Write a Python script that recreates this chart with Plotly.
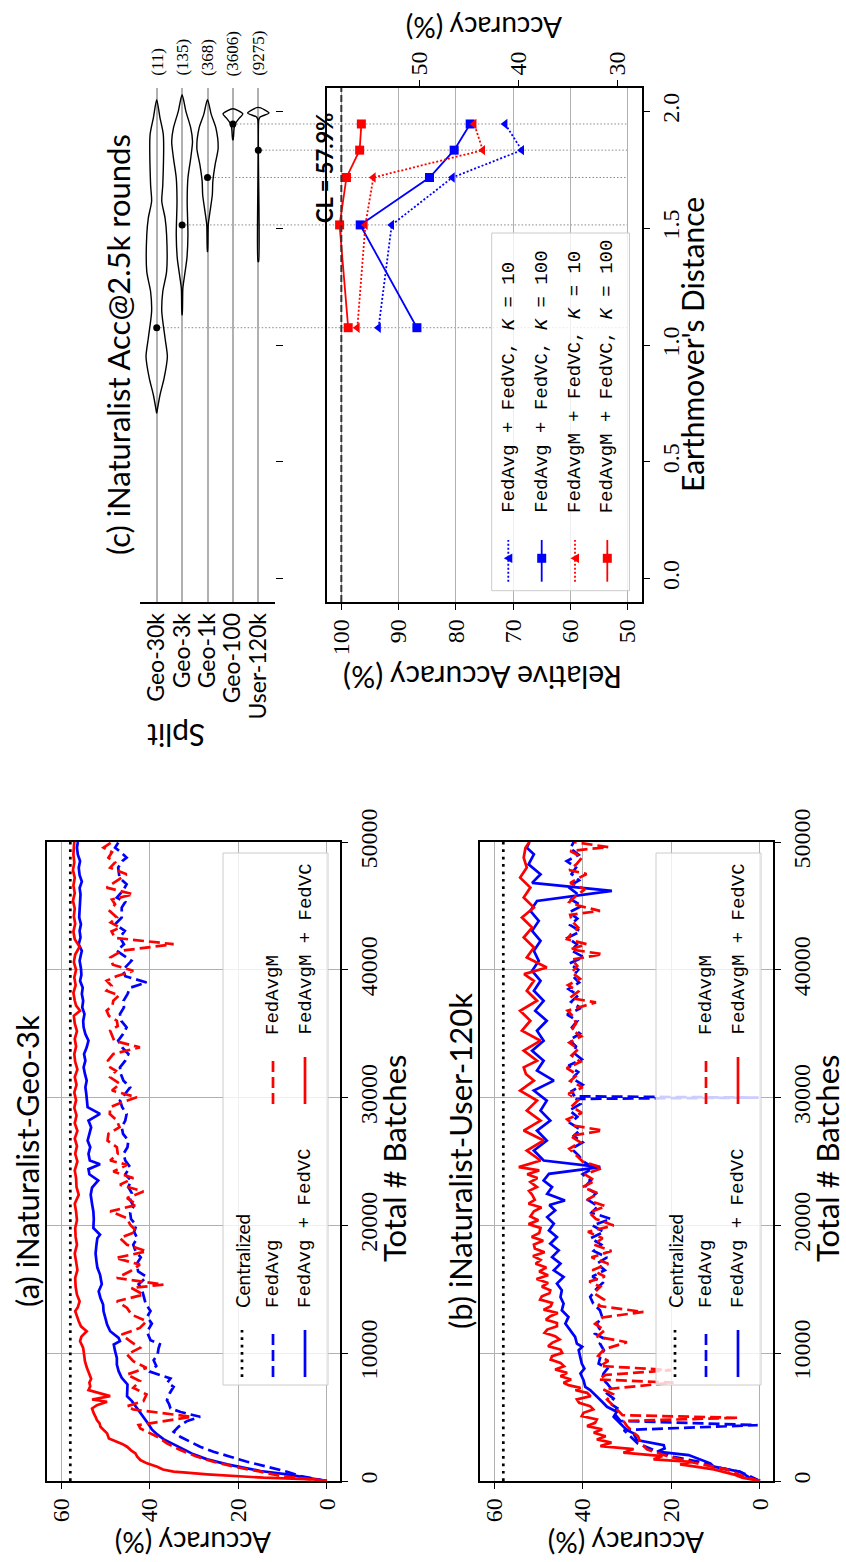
import plotly.graph_objects as go

W, H = 846, 1562
SANS = "Lato, 'Open Sans', sans-serif"
SERIF = "'Liberation Serif', 'DejaVu Serif', serif"
MONO = "'Liberation Mono', 'DejaVu Sans Mono', monospace"
BLUE = "#0000ff"
RED = "#ff0000"
GRID = "#b0b0b0"

# ---------------- panels (a), (b): accuracy vs. total batches ----------------
CL_ACC = 57.9
CL_BATCHES = [0, 50000]
ACC_TICKS = [0, 20, 40, 60]
BATCH_TICKS = [0, 10000, 20000, 30000, 40000, 50000]

# (a) iNaturalist-Geo-3k : (total batches, accuracy %)
GEO3K_FEDAVG = [
    (0, 0), (391, 6), (729, 9), (1120, 13.5), (1510, 18), (1901, 21.8), (2292, 25.6), (2682, 28.6),
    (3073, 30.8), (3464, 33.1), (3855, 34.6), (4245, 33.5), (4700, 31.5), (5026, 28.6), (5400, 33),
    (5677, 35.3), (6000, 35.6), (6328, 36.1), (6850, 35.5), (7370, 34.6), (7700, 36), (8021, 35.3),
    (8542, 39.8), (9000, 38.5), (9453, 39.1), (9900, 38.2), (10365, 38), (10700, 37.7), (11016, 39.8),
    (11667, 40.6), (12318, 39.5), (12838, 40.6), (13300, 39.8), (13880, 40.9), (14400, 41.3),
    (14922, 41.7), (15400, 42.5), (15964, 40.7), (16400, 42.6), (17000, 42.9), (17500, 42),
    (18000, 43.2), (18500, 43.7), (19000, 42.8), (19500, 43.5), (20000, 43), (20500, 44.2),
    (21000, 44.4), (21500, 43.6), (22000, 44.4), (22500, 44), (23000, 44.8), (23500, 44.2),
    (24000, 45.5), (24557, 44.4), (25078, 45.5), (25599, 45.9), (26120, 45), (26641, 44.8),
    (27160, 46), (27682, 46.3), (28200, 45.5), (28724, 45.2), (29245, 46.2), (29766, 46.7),
    (30300, 45.6), (30807, 44.4), (31328, 45.9), (31850, 46.5), (32370, 46.7), (32890, 45.5),
    (33411, 44.8), (33930, 46.2), (34453, 47.1), (34970, 46), (35495, 45.2), (36000, 46.4),
    (36536, 46.7), (37060, 45.8), (37578, 45.9), (38100, 45), (38600, 44.4), (39010, 40.7),
    (39500, 45.5), (40000, 46), (40703, 44.1), (41484, 47.4), (42000, 45.8), (42526, 46.7),
    (43050, 45.6), (43568, 47.8), (44100, 46.3), (44870, 46.3), (45300, 45.5), (45651, 47.4),
    (46200, 46), (46693, 45.2), (47200, 46.8), (47995, 47.1), (48500, 46.2), (48776, 45.2),
    (49200, 46.5), (49557, 47.8), (50000, 47),
]
GEO3K_FEDAVG_FEDVC = [
    (0, 0), (260, 4.5), (521, 9), (781, 15), (1042, 18.8), (1302, 22.5), (1693, 27), (2083, 30.1),
    (2474, 32.3), (2865, 34.6), (3255, 36.8), (3646, 38.3), (4036, 39.5), (4427, 40.2), (4948, 41.3),
    (5469, 42.5), (5859, 43.2), (6250, 44), (6641, 45.1), (7031, 45.1), (7552, 45), (8073, 46.3),
    (8594, 47), (9115, 47.4), (9635, 47.4), (10156, 47.8), (10677, 48.1), (10938, 46.7), (11198, 47),
    (11719, 48.9), (12240, 49.6), (12760, 50), (13281, 50.4), (13802, 50.5), (14323, 51.1),
    (14844, 51.5), (15400, 50.8), (16146, 51.2), (16700, 51.8), (17188, 52), (17800, 52.2),
    (18490, 52), (19000, 51.8), (19271, 51.2), (19792, 52.7), (20500, 52.6), (21094, 52.7),
    (21700, 53), (22396, 53.3), (22950, 53), (23516, 51.6), (24000, 53.6), (24400, 53.8),
    (24792, 51.2), (25078, 53.5), (25600, 53.8), (26120, 53.4), (26640, 54), (27160, 53.6),
    (27682, 53.2), (28200, 53.8), (28724, 51.2), (29245, 54), (29766, 54.1), (30300, 54.3),
    (30807, 54.5), (31328, 54.2), (31850, 54.6), (32370, 54.9), (32890, 54.5), (33411, 54.8),
    (33930, 54.2), (34453, 53.8), (34970, 54.5), (35495, 54.9), (36000, 55), (36536, 54.7),
    (37060, 55.2), (37578, 55), (38100, 55.3), (38600, 55.1), (39141, 55.7), (39600, 55.4),
    (40100, 55.5), (40703, 55.8), (41200, 55.5), (41484, 55.3), (42000, 56), (42526, 55.6),
    (43050, 55.8), (43568, 55.5), (44100, 55.9), (44870, 55.8), (45400, 55.7), (45900, 55.6),
    (46400, 55.8), (46900, 55.3), (47400, 55.8), (47995, 56), (48500, 55.7), (49000, 56.2),
    (49557, 56.4), (50000, 56.2),
]
GEO3K_FEDAVGM = [
    (0, 0), (391, 10.5), (729, 15), (1120, 21), (1510, 25.6), (1901, 29.3), (2422, 33.1), (2943, 36.1),
    (3464, 38.3), (3855, 40.6), (4115, 42.1), (4375, 42.5), (4700, 37), (5026, 30.5), (5350, 38),
    (5599, 43.7), (5850, 45.1), (6250, 41.4), (6771, 40.7), (7290, 43.7), (7813, 42.2), (8330, 45.1),
    (8854, 40.7), (9375, 43.7), (9896, 45.1), (10417, 42.2), (10938, 44.4), (11458, 46.3),
    (11980, 42.2), (12500, 40.7), (13021, 44.1), (13542, 45.1), (14063, 47.4), (14583, 41.4),
    (15104, 44.1), (15365, 36.9), (15885, 47.4), (16406, 44.4), (16927, 42.2), (17448, 47.7),
    (17969, 40.7), (18490, 45.1), (19010, 46.7), (19531, 42.9), (20052, 44.4), (20573, 45.1),
    (21094, 48.9), (21615, 42.9), (22135, 45.1), (22656, 41.4), (23177, 46.7), (23698, 43.7),
    (24219, 48.2), (24740, 45.1), (25078, 48.9), (25600, 47.2), (26120, 47.4), (26640, 49.5),
    (27161, 49.3), (27680, 46.8), (28203, 47.4), (28720, 49), (29245, 48.9), (29600, 46.5),
    (30026, 42.9), (30550, 48.5), (31068, 46.7), (31589, 48.9), (32100, 47.6), (32370, 48.9),
    (32900, 49.4), (33411, 48.2), (33932, 42.2), (34450, 48), (35234, 48.9), (35600, 47.2),
    (36016, 47.4), (36400, 49.2), (36797, 49.7), (37200, 48.4), (37578, 48.2), (38000, 46.9),
    (38359, 49.7), (38750, 48.6), (39141, 49.7), (39500, 47.5), (39922, 43.7), (40400, 48.3),
    (40964, 48.9), (41500, 46.2), (42005, 34.6), (42500, 47.8), (43000, 48.6), (43307, 46.7),
    (43700, 48.8), (44089, 47.4), (44600, 49), (45130, 47.8), (45500, 48.5), (45911, 43.7),
    (46432, 49.7), (46900, 47.6), (47474, 45.2), (47995, 48.9), (48400, 47.8), (48776, 49.3),
    (49200, 48.5), (49557, 50.4), (50000, 48.5),
]
GEO3K_FEDAVGM_FEDVC = [
    (0, 0), (130, 3), (260, 14.3), (391, 21.8), (520, 27), (651, 31.7), (729, 34.6), (900, 37),
    (1120, 38.3), (1380, 40.6), (1641, 42.1), (1900, 42.8), (2161, 43.2), (2400, 44.2), (2682, 45.1),
    (2900, 46.2), (3073, 47.4), (3333, 49.2), (3724, 49.6), (4000, 50.5), (4245, 51.1), (4500, 51.3),
    (4766, 51.9), (5026, 52.2), (5286, 52.6), (5677, 53), (5938, 51.9), (6198, 49.6), (6380, 53),
    (6641, 48.9), (7109, 53.8), (7400, 53.4), (7700, 53.6), (8000, 53.2), (8333, 53.6), (8900, 54.2),
    (9375, 54.6), (9900, 54.8), (10417, 55), (10938, 55.7), (11300, 55.4), (11719, 54.2),
    (12100, 55.5), (12500, 56), (12900, 56.4), (13281, 56.8), (13600, 56.2), (14063, 55.8),
    (14583, 56.4), (15200, 56.7), (15885, 56.8), (16500, 56.3), (17188, 56.6), (17800, 56.9),
    (18490, 56.4), (19100, 56.7), (19792, 56.8), (20400, 56.4), (21094, 56.6), (21700, 56.9),
    (22396, 56), (23000, 56.5), (23698, 56.6), (24300, 56.9), (25000, 56.3), (25600, 56.8),
    (26200, 56.4), (26800, 56.9), (27400, 56.3), (28000, 56.9), (28600, 56.5), (29200, 57),
    (29800, 56.6), (30400, 57), (31000, 56.5), (31600, 56.9), (32200, 56.3), (32800, 56.8),
    (33400, 57), (34000, 56.6), (34600, 56.9), (35200, 56.4), (35800, 56.9), (36400, 57.1),
    (36800, 55.7), (37200, 56.6), (37600, 56.9), (38200, 57.2), (38800, 56.7), (39400, 57),
    (40000, 56.6), (40600, 57.1), (41200, 56.8), (41800, 55.8), (42400, 56.9), (43000, 57.2),
    (43600, 56.8), (44200, 57.1), (44800, 56.9), (45400, 57.3), (46000, 56.9), (46600, 57.2),
    (47200, 56.9), (47800, 57.3), (48400, 57), (49000, 57.2), (49600, 57.1), (50000, 57),
]

# (b) iNaturalist-User-120k : (total batches, accuracy %)
USER120K_FEDAVG = [
    (0, 0), (729, 4.5), (1120, 10.5), (1380, 12), (1901, 19.5), (2422, 24), (2943, 27.6), (3464, 29.2),
    (3984, 30.7), (4375, 0.5), (4700, 31.5), (5339, 33), (5700, 32.2), (6068, 33.8), (6450, 33),
    (6849, 34.5), (7240, 33.6), (7630, 34.5), (8020, 35.6), (8411, 35.3), (8800, 34.4), (9193, 36.4),
    (9713, 36), (10234, 35.2), (10755, 36.1), (11150, 35.2), (11536, 37.2), (11900, 36.2),
    (12318, 36.8), (12838, 35.6), (13359, 36.1), (13880, 37.6), (14401, 38.3), (15000, 37),
    (15500, 35.5), (16000, 37.8), (16500, 35), (17000, 36.8), (17500, 34.5), (18000, 37.5),
    (18500, 35.8), (19000, 38.2), (19500, 35.2), (20000, 37.8), (20500, 33.6), (21000, 38),
    (21500, 36.5), (22000, 38.8), (22500, 37), (23000, 39.5), (23500, 38.2), (24000, 40),
    (24500, 37.5), (25000, 39.8), (25500, 41), (26000, 42.5), (26500, 40), (27000, 42),
    (27500, 40.5), (28000, 42.8), (28500, 41.2), (29000, 43), (29500, 40.5), (29900, 41.5),
    (30000, 0.3), (30100, 41.8), (30500, 42.5), (31000, 40), (31500, 42.3), (32000, 41),
    (32500, 43.2), (33000, 40.2), (33500, 42), (34000, 41.5), (34500, 43), (35000, 40.6),
    (35500, 42.4), (36000, 41.2), (36500, 43.5), (37000, 40.4), (37500, 42.6), (38000, 41),
    (38500, 43.2), (39000, 40.8), (39500, 42.2), (40000, 41), (40500, 43), (41000, 39.8),
    (41500, 42.5), (42000, 41.3), (42500, 43.4), (43000, 40.5), (43500, 42.8), (44000, 41.2),
    (44500, 43), (45000, 40.2), (45500, 42.6), (46000, 41.4), (46500, 43.3), (47000, 40.8),
    (47500, 42.5), (48000, 41.5), (48500, 43.6), (49000, 40.9), (49500, 42.8), (50000, 42),
]
USER120K_FEDAVG_FEDVC = [
    (0, 0), (300, 2.5), (729, 4.5), (1120, 10.4), (1380, 11.2), (1700, 13.5), (2031, 16.1),
    (2292, 23.2), (2550, 21.5), (2812, 21.7), (3203, 27.8), (3724, 28.5), (3984, 30), (4505, 31.5),
    (5026, 33), (5417, 32.3), (5807, 34.5), (6198, 35.6), (6589, 36.8), (7109, 38.3), (7370, 39.4),
    (7891, 39.8), (8411, 40.5), (8800, 39.6), (9193, 40.2), (9713, 40.5), (10234, 40.9),
    (10500, 40.1), (10755, 41.3), (11276, 41.7), (11797, 42.8), (12318, 43.9), (12838, 43.2),
    (13359, 44.7), (13880, 44.3), (14401, 45), (14922, 44.7), (15443, 45.8), (15964, 44.3),
    (16484, 46.5), (17005, 45), (17526, 46.9), (18047, 45.4), (18568, 47.3), (19089, 45.8),
    (19609, 47.6), (20130, 46.5), (20651, 48), (21172, 46.2), (21600, 47.5), (21953, 44),
    (22474, 48), (22995, 46.9), (23516, 48.8), (24036, 47.6), (24557, 36), (25078, 48.8),
    (25859, 51), (26641, 48.1), (27422, 50.3), (28203, 47.3), (28984, 49.5), (29766, 48.1),
    (30547, 51), (31328, 46.5), (32110, 50.3), (32891, 48.8), (33672, 51.4), (34453, 48.8),
    (35234, 50.3), (36016, 48.1), (36797, 50.7), (37578, 48.8), (38359, 51), (39141, 49.5),
    (39922, 51.4), (40703, 49.9), (41484, 51), (42266, 49.5), (43047, 51.4), (43828, 49.9),
    (44609, 51.8), (45391, 50.3), (46172, 33.4), (46800, 51.4), (47474, 49.5), (48255, 52.2),
    (49036, 51), (49557, 52.6), (50000, 52),
]
USER120K_FEDAVGM = [
    (0, 0), (400, 4), (911, 7.5), (1432, 14.9), (1953, 21), (2474, 25.5), (2995, 27), (3500, 27.5),
    (3776, 28.5), (4297, 30), (4700, 30.8), (4948, 4.8), (5150, 31), (5339, 31.5), (5859, 33),
    (6380, 34.5), (6800, 33.2), (7161, 35.3), (7700, 19.5), (7943, 36.4), (8300, 34.8), (8672, 20),
    (9000, 36), (9400, 34.2), (9800, 36.5), (10300, 35.2), (10859, 30), (11300, 36.8), (11800, 35),
    (12300, 37.2), (12800, 35.5), (13229, 26.3), (13700, 36.5), (14200, 35.2), (14700, 37.5),
    (15200, 36), (15600, 38.5), (16000, 35), (16500, 37.8), (17000, 34.2), (17500, 38), (18000, 33.5),
    (18500, 37.5), (19000, 35.5), (19500, 38.8), (20000, 33), (20500, 37), (21000, 38.5),
    (21500, 34.8), (22000, 39), (22500, 36.5), (23000, 40), (23500, 37.2), (24000, 39.5),
    (24500, 35.5), (25000, 40), (25500, 41.5), (26000, 43), (26500, 40.5), (27000, 42.8),
    (27422, 35.5), (27800, 41.8), (28300, 43.5), (28800, 40.2), (29300, 42.5), (29800, 41),
    (30300, 43.2), (30800, 40), (31300, 42.8), (31800, 41.2), (32300, 43.6), (32800, 40.5),
    (33300, 42.5), (33800, 41), (34300, 43), (34800, 40.3), (35300, 42.5), (35800, 41.5),
    (36300, 42), (36800, 43.4), (37453, 37), (37800, 42.9), (38300, 41), (38800, 43.3),
    (39300, 40.6), (39800, 42.5), (40300, 41.2), (40800, 42.4), (41224, 35.5), (41600, 42.8),
    (42005, 39.1), (42400, 43.5), (42800, 42.6), (43300, 41), (43800, 42.4), (44300, 42.8),
    (44609, 36.1), (45000, 40.7), (45300, 43), (45800, 41.5), (46300, 39.5), (46800, 42.8),
    (47250, 40.5), (47500, 39.1), (47800, 43), (48300, 41.3), (48800, 40.1), (49300, 42.8),
    (49600, 34.2), (50000, 42),
]
USER120K_FEDAVGM_FEDVC = [
    (0, 0), (260, 4), (521, 6), (911, 10.4), (1302, 18), (1500, 15.5), (1693, 24), (1950, 22),
    (2214, 30.8), (2500, 28.5), (2734, 36), (3000, 33.5), (3255, 36.8), (3500, 34.8), (3776, 37.5),
    (4050, 35.6), (4297, 39), (4550, 37.2), (4818, 36.8), (5080, 40.2), (5339, 39.8), (5600, 37.6),
    (5859, 38.3), (6120, 40.8), (6380, 41.3), (6640, 38.2), (6901, 39), (7100, 41.6), (7292, 40.5),
    (7500, 43.2), (7682, 44.3), (7943, 42.6), (8203, 45), (8460, 43.5), (8724, 46.2), (8985, 44.2),
    (9245, 45), (9500, 47.2), (9766, 46.9), (10026, 44.6), (10287, 45), (10550, 47.8),
    (10807, 46.9), (11070, 45.2), (11328, 46.2), (11590, 48.6), (11849, 48), (12110, 45.8),
    (12370, 45.8), (12630, 48.3), (12891, 47.3), (13150, 45.6), (13411, 48.8), (13670, 47.2),
    (13932, 46.9), (14190, 49.6), (14453, 49.2), (14700, 47.5), (14922, 47.3), (15200, 49.2),
    (15500, 47.8), (15800, 50.4), (16100, 47.8), (16400, 49.8), (16700, 48.2), (17000, 50.6),
    (17300, 49.5), (17600, 51.2), (17900, 48.6), (18200, 50.8), (18500, 51), (18800, 48.9),
    (19100, 51.5), (19400, 49.8), (19800, 49.5), (20100, 52.2), (20400, 50), (20700, 51.8),
    (21100, 51), (21400, 49.3), (21700, 52.2), (22000, 50.8), (22400, 51.4), (22700, 52.1),
    (23000, 50.3), (23400, 51.8), (23700, 50.2), (24000, 52.5), (24300, 49.8), (24557, 54.4),
    (25078, 49.5), (25859, 52.6), (26641, 48.8), (27422, 53.3), (28203, 49.5), (28984, 52.6),
    (29766, 50.3), (30547, 54.1), (31328, 51), (31850, 52.8), (32370, 53.3), (32891, 50.3),
    (33672, 53.3), (34453, 49.5), (35234, 53.7), (36016, 51.8), (36797, 54.1), (37578, 50.3),
    (38359, 52.6), (39141, 51), (39660, 53.2), (40182, 48.1), (40964, 52.6), (41745, 51),
    (42526, 53.3), (43307, 51.4), (44089, 53.7), (44870, 51), (45651, 53.3), (46432, 51.8),
    (47214, 54.1), (47995, 52.6), (48776, 53.3), (49557, 52.9), (50000, 52),
]

# ---------------- panel (c): accuracy @ 2.5k rounds vs. EMD ----------------
SPLITS = ["Geo-30k", "Geo-3k", "Geo-1k", "Geo-100", "User-120k"]
CLIENT_COUNTS = [11, 135, 368, 3606, 9275]
EMD_MEDIAN = [1.074, 1.514, 1.717, 1.946, 1.834]
EMD_TICKS = [0.0, 0.5, 1.0, 1.5, 2.0]
REL_TICKS = [50, 60, 70, 80, 90, 100]
ACC_TWIN_TICKS = [30, 40, 50]

# per-client EMD distribution outlines: (EMD, half width as a fraction of split spacing)
VIOLIN_PROFILES = [
    [(2.05, 0), (1.972, 0.13), (1.90, 0.26), (1.686, 0.24), (1.615, 0.20), (1.543, 0.33),
     (1.472, 0.39), (1.314, 0.39), (1.229, 0.24), (1.143, 0.20), (1.029, 0.33), (0.95, 0.42),
     (0.857, 0.29), (0.786, 0.13), (0.707, 0)],
    [(2.071, 0), (2.0, 0.15), (1.929, 0.34), (1.872, 0.41), (1.80, 0.34), (1.715, 0.23),
     (1.615, 0.20), (1.472, 0.23), (1.372, 0.19), (1.30, 0.10), (1.243, 0.03), (1.129, 0.004)],
    [(2.05, 0), (1.986, 0.15), (1.929, 0.33), (1.843, 0.42), (1.772, 0.30), (1.70, 0.21),
     (1.643, 0.19), (1.572, 0.10), (1.515, 0.03), (1.40, 0.004)],
    [(2.011, 0), (1.989, 0.39), (1.972, 0.26), (1.95, 0.11), (1.929, 0.05), (1.879, 0.008)],
    [(2.017, 0), (1.993, 0.42), (1.976, 0.07), (1.965, 0.02), (1.357, 0.012)],
]

# relative accuracy (% of centralized) for each split, in SPLITS order
REL_FEDAVG_K10 = [93.5, 91.2, 80.6, 71.4, 68.5]
REL_FEDAVG_K100 = [86.8, 96.7, 84.6, 77.5, 80.3]
REL_FEDAVGM_K10 = [97.2, 95.8, 94.4, 76.8, 75.3]
REL_FEDAVGM_K100 = [98.8, 100.3, 99.1, 96.5, 96.8]
CL_REL = 100.0


# ---------------- helpers: pixel position -> paper fraction ----------------
def fx(p):
    return p / W


def fy(p):
    return 1 - p / H


def split_pairs(pairs):
    return [p[0] for p in pairs], [p[1] for p in pairs]


fig = go.Figure()


def add_line(pairs, xa, ya, color, dash, width=2.7):
    b, a = split_pairs(pairs)
    fig.add_trace(go.Scatter(x=a, y=b, xaxis=xa, yaxis=ya, mode="lines",
                             line=dict(color=color, width=width, dash=dash),
                             hoverinfo="skip", showlegend=False))


DASH = "11px,5px"
DOTS = "2.7px,4.7px"

for xa, ya, series in [
    ("x", "y", [GEO3K_FEDAVG, GEO3K_FEDAVG_FEDVC, GEO3K_FEDAVGM, GEO3K_FEDAVGM_FEDVC]),
    ("x2", "y2", [USER120K_FEDAVG, USER120K_FEDAVG_FEDVC, USER120K_FEDAVGM, USER120K_FEDAVGM_FEDVC]),
]:
    fig.add_trace(go.Scatter(x=[CL_ACC, CL_ACC], y=CL_BATCHES, xaxis=xa, yaxis=ya, mode="lines",
                             line=dict(color="black", width=2.7, dash=DOTS),
                             hoverinfo="skip", showlegend=False))
    add_line(series[0], xa, ya, BLUE, DASH)
    add_line(series[1], xa, ya, BLUE, "solid")
    add_line(series[2], xa, ya, RED, DASH)
    add_line(series[3], xa, ya, RED, "solid")

# ---- violins of per-client EMD (x3 / y3) ----
for i, prof in enumerate(VIOLIN_PROFILES):
    emd = [p[0] for p in prof]
    hw = [p[1] for p in prof]
    xs = [i + w for w in hw] + [i - w for w in reversed(hw)]
    ys = emd + list(reversed(emd))
    fig.add_trace(go.Scatter(x=xs, y=ys, xaxis="x3", yaxis="y3", mode="lines",
                             line=dict(color="black", width=1.4, shape="spline", smoothing=0.7),
                             hoverinfo="skip", showlegend=False))
fig.add_trace(go.Scatter(x=list(range(len(SPLITS))), y=EMD_MEDIAN, xaxis="x3", yaxis="y3",
                         mode="markers", marker=dict(color="black", size=7),
                         hoverinfo="skip", showlegend=False))

# ---- relative accuracy vs. EMD (x4 / y4) ----
order = sorted(range(len(SPLITS)), key=lambda k: EMD_MEDIAN[k])
for vals, color, dash, sym in [
    (REL_FEDAVG_K10, BLUE, "2px,2px", "triangle-left"),
    (REL_FEDAVG_K100, BLUE, "solid", "square"),
    (REL_FEDAVGM_K10, RED, "2px,2px", "triangle-left"),
    (REL_FEDAVGM_K100, RED, "solid", "square"),
]:
    fig.add_trace(go.Scatter(x=[vals[k] for k in order], y=[EMD_MEDIAN[k] for k in order],
                             xaxis="x4", yaxis="y4", mode="lines+markers",
                             line=dict(color=color, width=1.8, dash=dash),
                             marker=dict(symbol=sym, size=9, color=color),
                             hoverinfo="skip", showlegend=False))
# anchors the twin accuracy axis
fig.add_trace(go.Scatter(x=[CL_ACC], y=[2.0], xaxis="x5", yaxis="y4", mode="markers",
                         marker=dict(opacity=0), hoverinfo="skip", showlegend=False))

# ---------------- axes ----------------
tick_font = dict(family=SERIF, size=24, color="black")
common = dict(ticks="outside", ticklen=6, tickwidth=1.3, tickcolor="black", automargin=False,
              showline=True, linecolor="black", linewidth=1.5, zeroline=False)

PANEL_Y = [fy(1481), fy(842)]


def acc_axis(x0, x1, anchor):
    return dict(domain=[fx(x0), fx(x1)], range=[63.16, -2.95], anchor=anchor, side="bottom",
                tickvals=ACC_TICKS, ticktext=[str(v) for v in ACC_TICKS], tickangle=-90,
                mirror=True, showgrid=True, gridcolor=GRID, gridwidth=1, tickfont=tick_font, **common)


def batch_axis(anchor):
    return dict(domain=PANEL_Y, range=[0, 50000], anchor=anchor, side="right",
                tickvals=BATCH_TICKS, ticktext=[str(v) for v in BATCH_TICKS], tickangle=-90,
                mirror=True, showgrid=True, gridcolor=GRID, gridwidth=1, tickfont=tick_font, **common)


C_Y = [fy(602), fy(88)]
EMD_RANGE = [-0.1, 2.1]
REL_RANGE = [102.5, 47.5]
CAT_RANGE = [-0.657, len(SPLITS) - 1 + 0.657]

fig.update_layout(
    width=W, height=H, margin=dict(l=0, r=0, t=0, b=0, pad=0, autoexpand=False),
    paper_bgcolor="white", plot_bgcolor="white", showlegend=False,
    xaxis=acc_axis(47, 340, "y"),
    yaxis=batch_axis("x"),
    xaxis2=acc_axis(480, 773, "y2"),
    yaxis2=batch_axis("x2"),
    xaxis3=dict(domain=[fx(140), fx(275)], range=CAT_RANGE, anchor="y3", side="bottom",
                tickvals=list(range(len(SPLITS))), ticktext=SPLITS, tickangle=-90, automargin=False,
                ticks="", showline=True, linecolor="black", linewidth=1.5, zeroline=False,
                showgrid=True, gridcolor=GRID, gridwidth=1.5,
                tickfont=dict(family=SANS, size=23, color="black")),
    yaxis3=dict(domain=C_Y, range=EMD_RANGE, anchor="x3", side="right", tickvals=EMD_TICKS,
                ticks="outside", ticklen=7, tickwidth=1.3, tickcolor="black", automargin=False,
                showticklabels=False, showline=False, showgrid=False, zeroline=False),
    xaxis4=dict(domain=[fx(327), fx(642)], range=REL_RANGE, anchor="y4", side="bottom",
                tickvals=REL_TICKS, ticktext=[str(v) for v in REL_TICKS], tickangle=-90,
                mirror=False, showgrid=True, gridcolor=GRID, gridwidth=1, tickfont=tick_font, **common),
    xaxis5=dict(range=[r * CL_ACC / 100 for r in REL_RANGE], overlaying="x4", anchor="y4", side="top",
                tickvals=ACC_TWIN_TICKS, ticktext=[str(v) for v in ACC_TWIN_TICKS], tickangle=-90,
                showgrid=False, tickfont=tick_font, **common),
    yaxis4=dict(domain=C_Y, range=EMD_RANGE, anchor="x4", side="right", tickvals=EMD_TICKS,
                ticktext=["%.1f" % v for v in EMD_TICKS], tickangle=-90, mirror=True,
                showgrid=False, tickfont=tick_font, **common),
)

shapes = []
annotations = []


def ann(text, x, y, angle, size, family=SANS, xanchor="center", yanchor="middle", **kw):
    annotations.append(dict(text=text, x=fx(x), y=fy(y), xref="paper", yref="paper",
                            textangle=angle, showarrow=False, xanchor=xanchor, yanchor=yanchor,
                            font=dict(family=family, size=size, color="black"), **kw))


# centralized reference in (c)
shapes.append(dict(type="line", xref="x4", yref="y4 domain", x0=CL_REL, x1=CL_REL, y0=0, y1=1,
                   line=dict(color="#333333", width=2, dash="7px,3px"), layer="above"))
# median guide lines from each violin to the right edge of (c)
cat_px0, cat_px1 = 140, 275
for i, m in enumerate(EMD_MEDIAN):
    xpix = cat_px0 + (i - CAT_RANGE[0]) / (CAT_RANGE[1] - CAT_RANGE[0]) * (cat_px1 - cat_px0)
    shapes.append(dict(type="line", xref="paper", yref="y4", x0=fx(xpix), x1=fx(627), y0=m, y1=m,
                       line=dict(color="#888888", width=1, dash="1.5px,2px"), layer="below"))

# legends of (a) and (b)
for off in (0, 433):
    shapes.append(dict(type="rect", xref="paper", yref="paper", x0=fx(223 + off), x1=fx(328 + off),
                       y0=fy(1385), y1=fy(853), fillcolor="rgba(255,255,255,0.8)",
                       line=dict(color="#cccccc", width=1), layer="above"))
    for xk, yk, color, dash, w in [
        (242, 1330, "black", DOTS, 2.7), (273, 1330, BLUE, DASH, 2.7), (305, 1330, BLUE, "solid", 2.7),
        (273, 1057, RED, DASH, 2.7), (305, 1057, RED, "solid", 2.7),
    ]:
        shapes.append(dict(type="line", xref="paper", yref="paper", x0=fx(xk + off), x1=fx(xk + off),
                           y0=fy(yk + 47), y1=fy(yk), line=dict(color=color, width=w, dash=dash),
                           layer="above"))
    ann("Centralized", 242 + off, 1310, -90, 19, SANS, yanchor="bottom")
    ann("FedAvg", 273 + off, 1310, -90, 19, MONO, yanchor="bottom")
    ann("FedAvg + FedVC", 305 + off, 1310, -90, 19, MONO, yanchor="bottom")
    ann("FedAvgM", 273 + off, 1037, -90, 19, MONO, yanchor="bottom")
    ann("FedAvgM + FedVC", 305 + off, 1037, -90, 19, MONO, yanchor="bottom")

# legend of (c)
shapes.append(dict(type="rect", xref="paper", yref="paper", x0=fx(491.7), x1=fx(629.5),
                   y0=fy(590.7), y1=fy(233), fillcolor="rgba(255,255,255,0.8)",
                   line=dict(color="#cccccc", width=1), layer="above"))
LEG_C = [
    ("FedAvg + FedVC, ", "K", " = 10", BLUE, "2px,2px", "tri"),
    ("FedAvg + FedVC, ", "K", " = 100", BLUE, "solid", "sq"),
    ("FedAvgM + FedVC, ", "K", " = 10", RED, "2px,2px", "tri"),
    ("FedAvgM + FedVC, ", "K", " = 100", RED, "solid", "sq"),
]
for j, (lab, kk, kv, color, dash, mk) in enumerate(LEG_C):
    xc = [508.3, 541.7, 575, 607.3][j]
    shapes.append(dict(type="line", xref="paper", yref="paper", x0=fx(xc), x1=fx(xc),
                       y0=fy(581.7), y1=fy(540), line=dict(color=color, width=1.8, dash=dash),
                       layer="above"))
    if mk == "sq":
        shapes.append(dict(type="rect", xref="paper", yref="paper", x0=fx(xc - 4.5), x1=fx(xc + 4.5),
                           y0=fy(558.3 + 4.5), y1=fy(558.3 - 4.5), fillcolor=color,
                           line=dict(width=0), layer="above"))
    else:
        path = "M %f %f L %f %f L %f %f Z" % (fx(xc - 4.5), fy(558.3), fx(xc + 4), fy(558.3 - 4.8),
                                              fx(xc + 4), fy(558.3 + 4.8))
        shapes.append(dict(type="path", xref="paper", yref="paper", path=path, fillcolor=color,
                           line=dict(width=0), layer="above"))
    txt = lab + "<i>%s</i>%s" % (kk, kv)
    ann(txt, xc, 515, -90, 19, MONO, yanchor="bottom")

# titles and axis labels
ann("(a) iNaturalist-Geo-3k", 27, 1161, -90, 31)
ann("(b) iNaturalist-User-120k", 460, 1161, -90, 31)
ann("Total # Batches", 394, 1159, -90, 31)
ann("Total # Batches", 827, 1159, -90, 31)
ann("Accuracy (%)", 193, 1543, 180, 28)
ann("Accuracy (%)", 626, 1543, 180, 28)
ann("(c) iNaturalist Acc@2.5k rounds", 118, 345, -90, 31)
ann("Split", 176, 736, 180, 30)
ann("Relative Accuracy (%)", 483, 678, 180, 30)
ann("Accuracy (%)", 484, 28, 180, 28)
ann("Earthmover's Distance", 692, 345, -90, 30)
ann("<b>CL = 57.9%</b>", 325, 168, -90, 22)
for i, n in enumerate(CLIENT_COUNTS):
    annotations.append(dict(text="(%d)" % n, x=i, y=fy(78), xref="x3", yref="paper", textangle=-90,
                            showarrow=False, xanchor="center", yanchor="bottom",
                            font=dict(family=SERIF, size=17, color="black")))

fig.update_layout(shapes=shapes, annotations=annotations)
fig.write_html("out.html")
